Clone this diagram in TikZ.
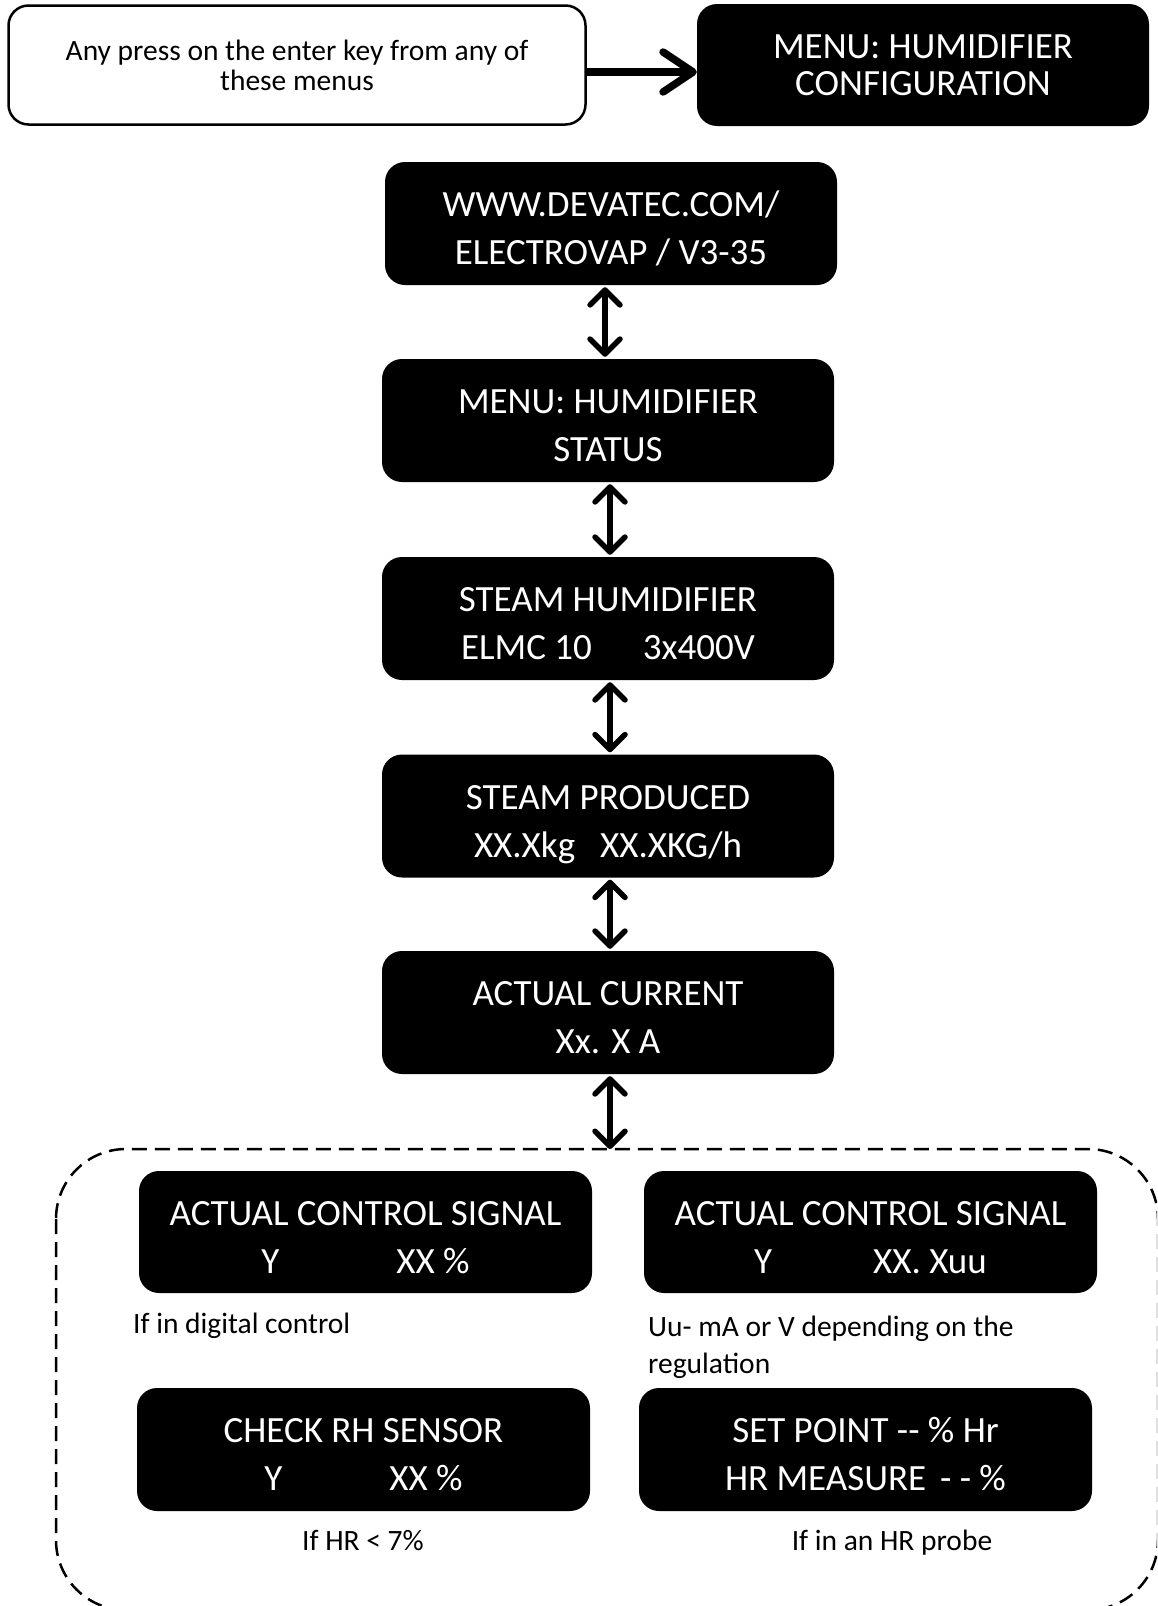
\documentclass[tikz,border=0pt]{standalone}
\usepackage{fontspec}
\setmainfont{Carlito}
\usetikzlibrary{arrows.meta}
\newcommand\twoline[2]{\rule{0pt}{46pt}#1\\#2\rule[-12pt]{0pt}{12pt}}
\begin{document}
\begin{tikzpicture}[x=1pt,y=-1pt,
  blk/.style={fill=black, text=white, rounded corners=20pt, minimum width=452pt, minimum height=123pt, inner sep=0pt, align=center, font=\fontsize{37}{48}\selectfont},
  wht/.style={draw=black, line width=2.5pt, fill=white, rounded corners=20pt, minimum width=577pt, minimum height=119pt, inner sep=0pt, align=center, font=\fontsize{29.5}{30}\selectfont},
  lbl/.style={inner sep=0pt, font=\fontsize{29.5}{37}\selectfont},
  dbl/.style={line width=5.5pt, shorten <=2pt, shorten >=2pt, {Straight Barb[length=15pt,width=30pt,round]}-{Straight Barb[length=15pt,width=30pt,round]}},
  big/.style={line width=7.5pt, -{Straight Barb[length=30pt,width=40pt,round]}},
  grp/.style={draw=black, line width=2.5pt, dash pattern=on 15pt off 8pt, rounded corners=70pt}]
\useasboundingbox (0,0) rectangle (1157,1606);
\clip (0,0) rectangle (1157,1606);

% top row
\node[wht] (tl) at (297,65) {Any press on the enter key from any of\\these menus};
\node[blk, minimum height=122pt, font=\fontsize{37}{37}\selectfont] (cfg) at (923,65) {MENU: HUMIDIFIER\\CONFIGURATION};
\draw[big] (tl.east |- 0,72) -- (cfg.west |- 0,72);

% central column
\node[blk] (b1) at (611,223.5) {\twoline{WWW.DEVATEC.COM/}{ELECTROVAP / V3-35}};
\node[blk] (b2) at (608,420.5) {\twoline{MENU: HUMIDIFIER}{STATUS}};
\node[blk] (b3) at (608,618.5) {\twoline{STEAM HUMIDIFIER}{ELMC 10\hspace{51pt}3x400V}};
\node[blk] (b4) at (608,816) {\twoline{STEAM PRODUCED}{XX.Xkg\hspace{25pt}XX.XKG/h}};
\node[blk] (b5) at (608,1012.5) {\twoline{ACTUAL CURRENT}{Xx. X A}};

\draw[dbl] ([xshift=-6pt]b1.south) -- ([xshift=-6pt]b1.south |- b2.north);
\draw[dbl] ([xshift=2pt]b2.south) -- ([xshift=2pt]b3.north);
\draw[dbl] ([xshift=2pt]b3.south) -- ([xshift=2pt]b4.north);
\draw[dbl] ([xshift=2pt]b4.south) -- ([xshift=2pt]b5.north);

% dashed group
\draw[grp] (56,1149) rectangle (1158,1610);
\coordinate (gtop) at (610,1149);
\draw[dbl, shorten >=0pt] ([xshift=2pt]b5.south) -- (gtop);

% lower boxes
\node[blk, minimum width=453pt, minimum height=122pt] (sa) at (365.5,1232) {\twoline{ACTUAL CONTROL SIGNAL}{Y\hspace{117pt}XX \%}};
\node[blk, minimum width=453pt, minimum height=122pt] (sb) at (870.5,1232) {\twoline{ACTUAL CONTROL SIGNAL}{Y\hspace{101pt}XX. Xuu}};
\node[blk, minimum width=453pt] (sc) at (363.5,1449.5) {\twoline{CHECK RH SENSOR}{Y\hspace{107pt}XX \%}};
\node[blk, minimum width=453pt] (sd) at (865.5,1449.5) {\twoline{SET POINT -{}- \% Hr}{HR MEASURE\hspace{14pt}- - \%}};

% labels
\node[lbl, anchor=base west] (la) at (133,1333) {If in digital control};
\node[lbl, anchor=base west, align=left] (lb) at (648,1373) {Uu- mA or V depending on the\\regulation};
\node[lbl, anchor=base] (lc) at (363,1550) {If HR < 7\%};
\node[lbl, anchor=base] (ld) at (892,1550) {If in an HR probe};
\end{tikzpicture}
\end{document}
